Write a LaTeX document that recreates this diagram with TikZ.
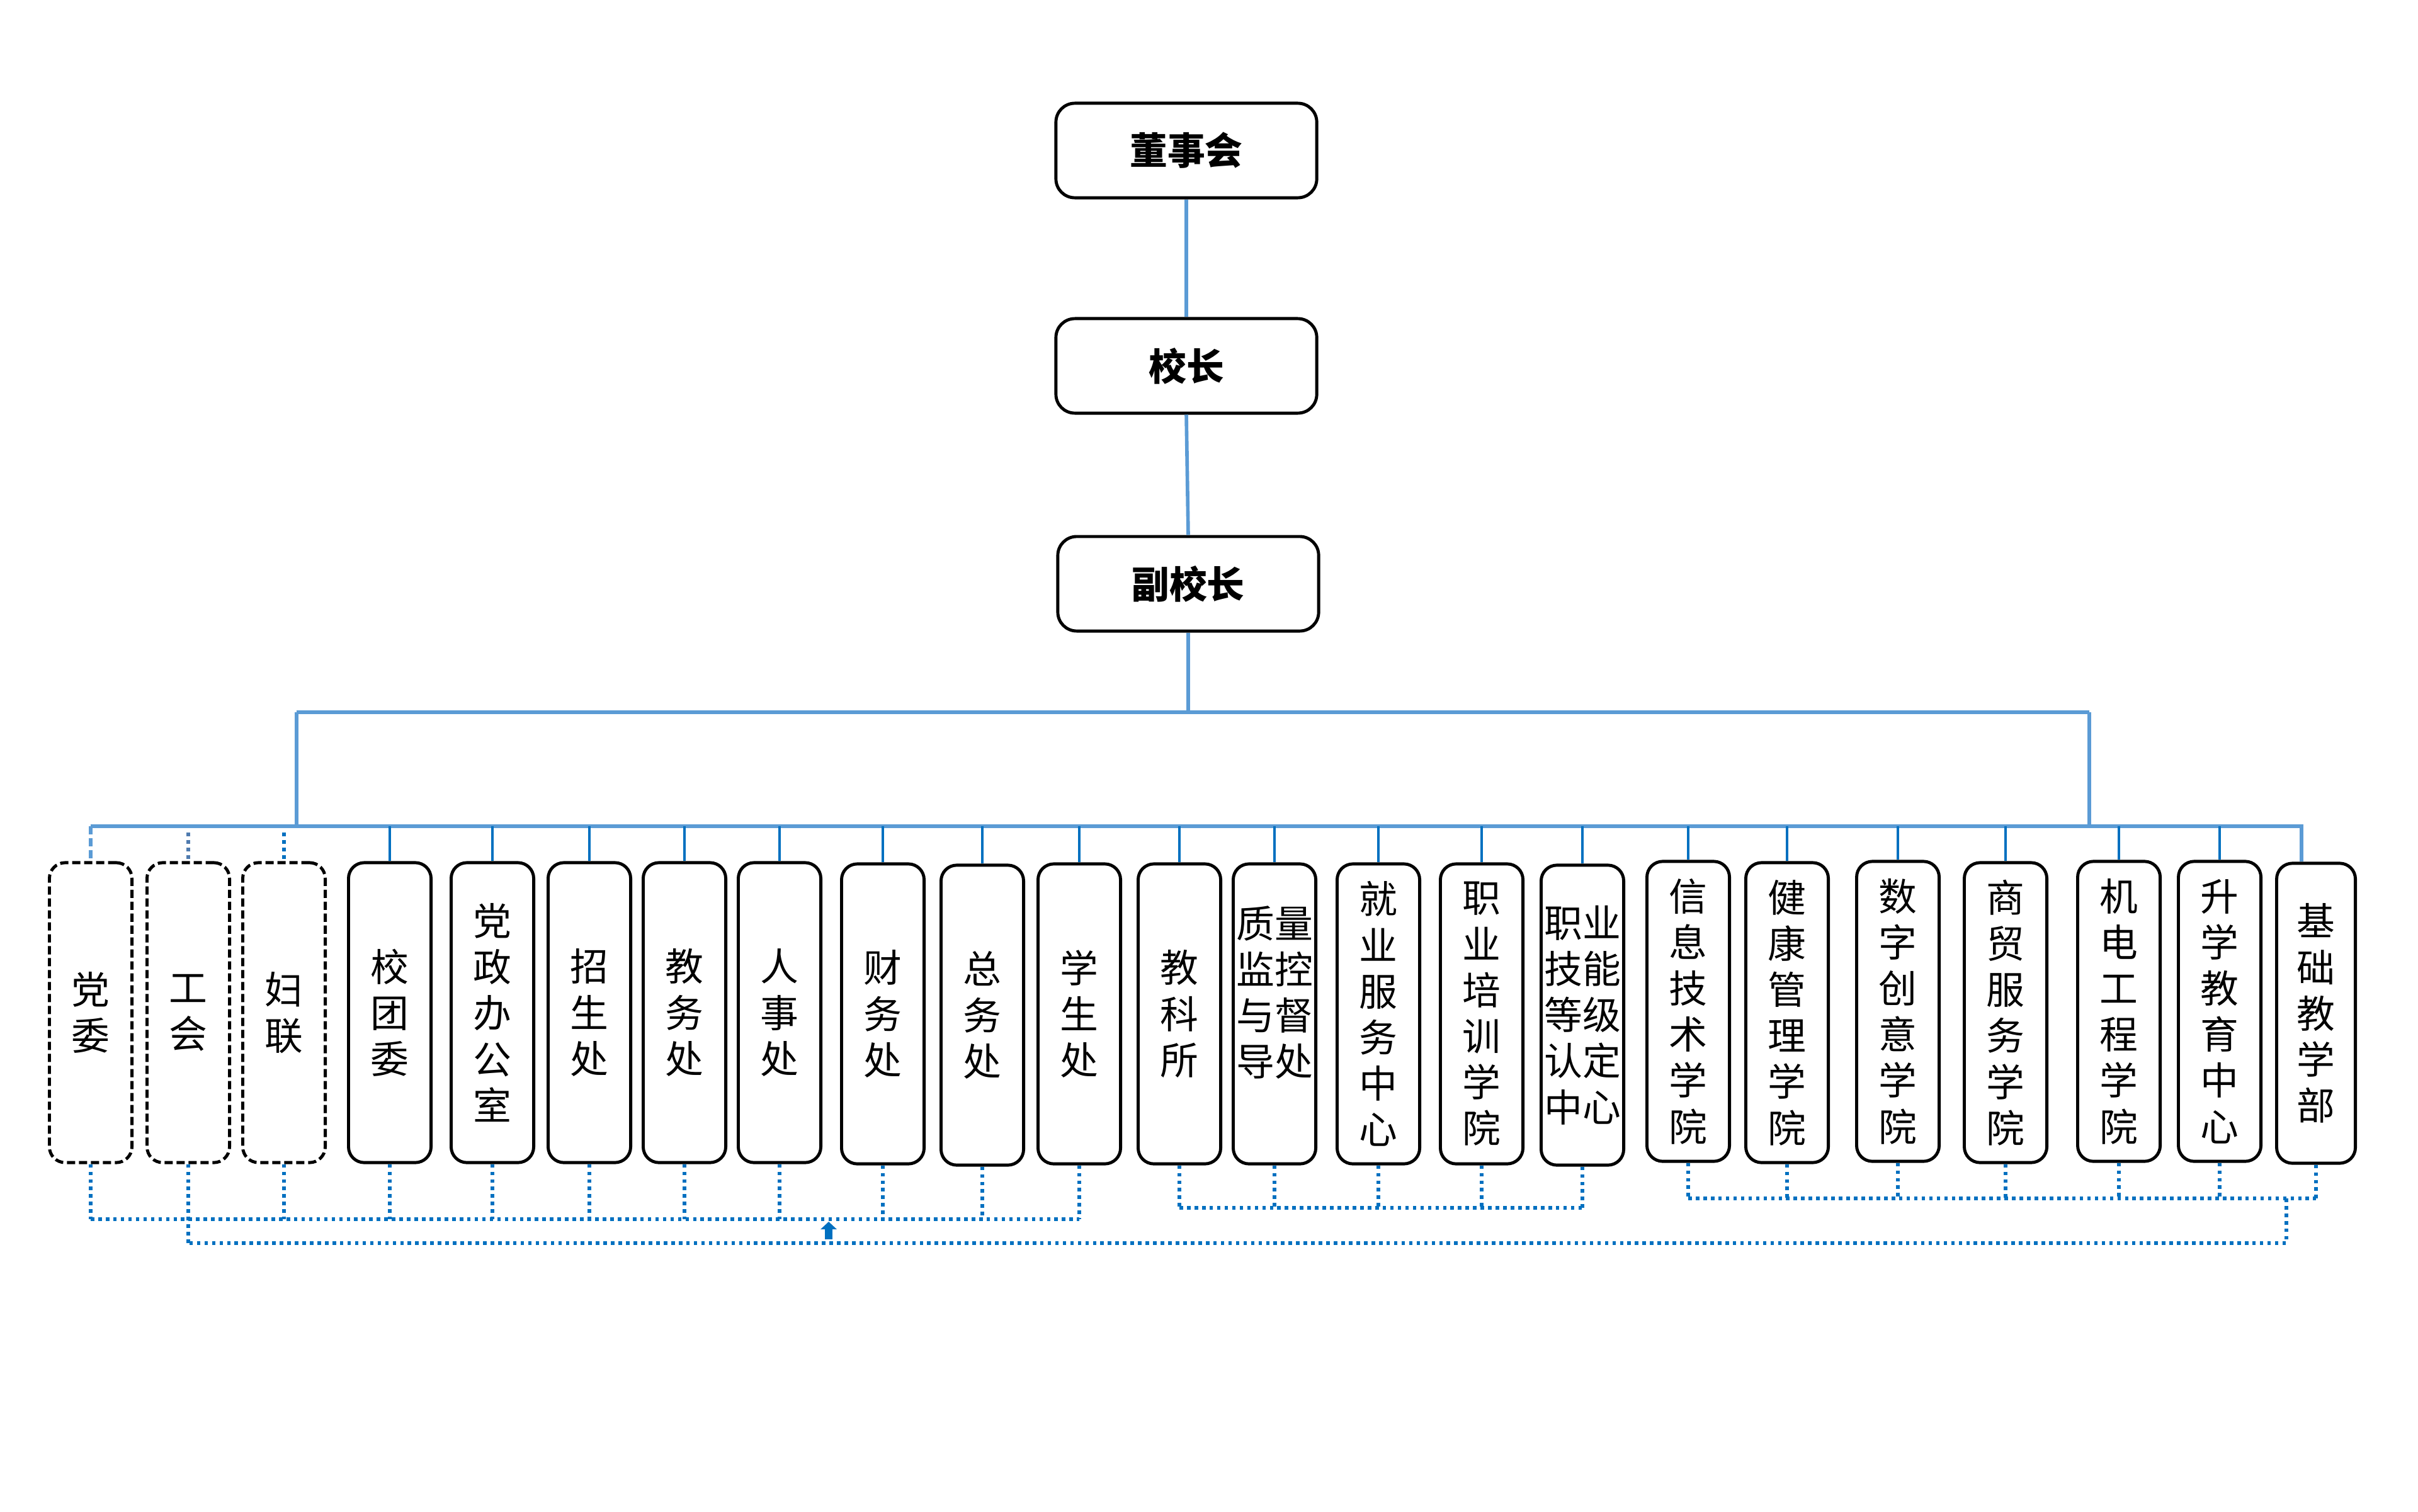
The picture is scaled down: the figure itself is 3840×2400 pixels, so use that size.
\documentclass[tikz,border=0pt]{standalone}
\usepackage{fontspec}
\newfontfamily\cjk{Noto Sans CJK SC}
\usetikzlibrary{arrows.meta}
\definecolor{lineA}{HTML}{5B9BD5}
\definecolor{lineB}{HTML}{0070C0}
\definecolor{lineG}{HTML}{4F7BAF}
\tikzset{
 topbox/.style={draw=black, line width=1.4pt, rounded corners=0.3cm, minimum width=4.14cm, minimum height=1.5cm, inner sep=0pt, font=\cjk\bfseries\fontsize{17pt}{20pt}\selectfont},
 unit/.style={draw=black, line width=1.4pt, rounded corners=0.25cm, minimum width=1.31cm, minimum height=4.76cm, inner sep=0pt, align=center, font=\cjk\fontsize{17.3pt}{20.8pt}\selectfont},
 dunit/.style={unit, dash pattern=on 3.7pt off 1.7pt},
 main/.style={draw=lineA, line width=1.6pt},
 drop/.style={draw=lineB, line width=1.0pt},
 dotl/.style={draw=lineB, line width=1.6pt, dash pattern=on 1.6pt off 1.8pt},
}
\begin{document}
\begin{tikzpicture}[x=0.01cm,y=-0.01cm]
\useasboundingbox (0,0) rectangle (3840,2400);
% top chain
\node[topbox] (chair) at (1884,239) {董事会};
\node[topbox] (pres) at (1884,581) {校长};
\node[topbox] (vp) at (1887,927) {副校长};
% unit boxes
\node[dunit] (b1) at (144,1608) {党\\委};
\node[dunit] (b2) at (299,1608) {工\\会};
\node[dunit] (b3) at (451,1608) {妇\\联};
\node[unit] (b4) at (619,1608) {校\\团\\委};
\node[unit] (b5) at (782,1608) {党\\政\\办\\公\\室};
\node[unit] (b6) at (936,1608) {招\\生\\处};
\node[unit] (b7) at (1087,1608) {教\\务\\处};
\node[unit] (b8) at (1238,1608) {人\\事\\处};
\node[unit] (b9) at (1402,1610) {财\\务\\处};
\node[unit] (b10) at (1560,1612) {总\\务\\处};
\node[unit] (b11) at (1714,1610) {学\\生\\处};
\node[unit] (b12) at (1873,1610) {教\\科\\所};
\node[unit] (b13) at (2024,1610) {质量\\监控\\与督\\导处\\\mbox{}};
\node[unit] (b14) at (2189,1610) {就\\业\\服\\务\\中\\心};
\node[unit] (b15) at (2353,1610) {职\\业\\培\\训\\学\\院};
\node[unit] (b16) at (2513,1612) {职业\\技能\\等级\\认定\\中心};
\node[unit] (b17) at (2681,1606) {信\\息\\技\\术\\学\\院};
\node[unit] (b18) at (2838,1608) {健\\康\\管\\理\\学\\院};
\node[unit] (b19) at (3014,1606) {数\\字\\创\\意\\学\\院};
\node[unit] (b20) at (3185,1608) {商\\贸\\服\\务\\学\\院};
\node[unit] (b21) at (3365,1606) {机\\电\\工\\程\\学\\院};
\node[unit] (b22) at (3525,1606) {升\\学\\教\\育\\中\\心};
\node[unit, minimum width=1.25cm] (b23) at (3678,1609) {基\\础\\教\\学\\部};
% guide coordinates
\coordinate (bus1) at (0,1131);
\coordinate (bus2) at (0,1312);
\coordinate (bus2b) at (0,1322);
\coordinate (busL) at (471,1131);
\coordinate (busR) at (3318,1131);
\coordinate (d23) at (3655,1312);
\coordinate (gA) at (0,1936);
\coordinate (gB) at (0,1918);
\coordinate (gC) at (0,1903);
\coordinate (gL) at (0,1974);
\coordinate (cR) at (3631,1903);
\coordinate (arrS) at (1316,1968);
\coordinate (arrE) at (1316,1940);
% solid tree
\draw[main] (chair.south) -- (pres.north);
\draw[main] (pres.south) -- (vp.north);
\draw[main] (vp.south) -- (vp.south |- bus1);
\draw[main] (busL) -- (busR);
\draw[main] (busL) -- (busL |- bus2);
\draw[main] (busR) -- (busR |- bus2);
\draw[main] (b1.north |- bus2) -- (d23) -- (d23 |- b23.north);
\draw[main, dash pattern=on 3.7pt off 1.7pt] (b1.north |- bus2) -- (b1.north);
\draw[dotl, draw=lineG] (b2.north |- bus2b) -- (b2.north);
\draw[dotl] (b3.north |- bus2b) -- (b3.north);
\foreach \i in {4,...,22} \draw[drop] (b\i.north |- bus2) -- (b\i.north);
% dotted groups
\foreach \i in {1,3,4,...,11} \draw[dotl] (b\i.south) -- (b\i.south |- gA);
\draw[dotl] (b1.south |- gA) -- (b11.south |- gA);
\foreach \i in {12,...,16} \draw[dotl] (b\i.south) -- (b\i.south |- gB);
\draw[dotl] (b12.south |- gB) -- (b16.south |- gB);
\foreach \i in {17,...,23} \draw[dotl] (b\i.south) -- (b\i.south |- gC);
\draw[dotl] (b17.south |- gC) -- (b23.south |- gC);
\draw[dotl] (b2.south) -- (b2.south |- gL);
\draw[dotl] (cR) -- (cR |- gL) -- (b2.south |- gL);
% arrow
\draw[lineB, line width=0.12cm, -{Triangle[width=0.25cm,length=0.12cm]}] (arrS) -- (arrE);
\end{tikzpicture}
\end{document}
